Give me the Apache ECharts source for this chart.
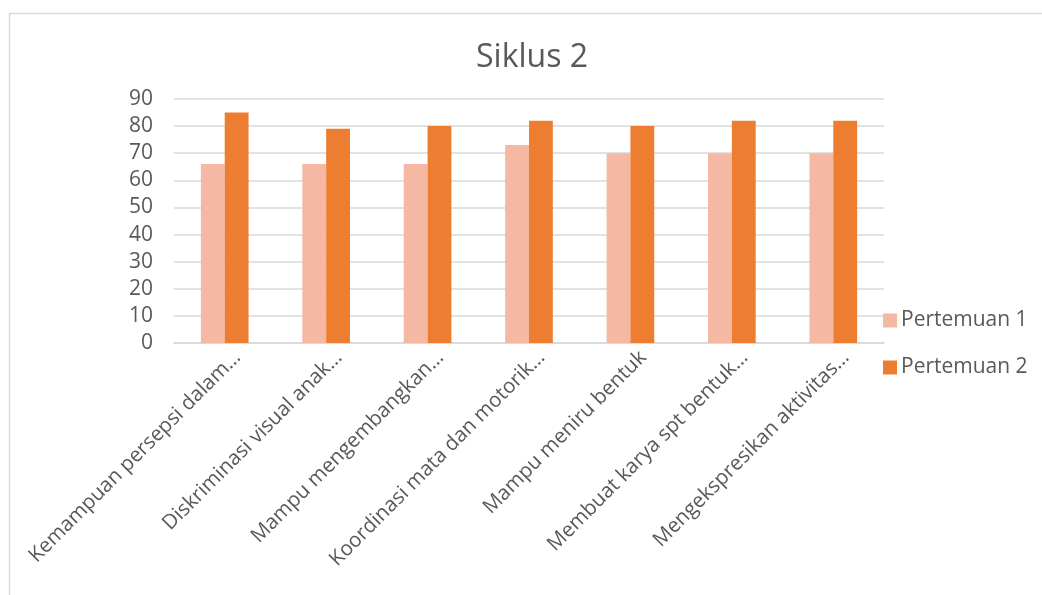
<!DOCTYPE html>
<html lang="id">

<head>
    <meta charset="utf-8">
    <title>Siklus 2</title>
    <style>
        body {
            margin: 0;
            background-color: #ffffff;
        }
    </style>
</head>

<body>
    <div id="main" style="width: 1042px;height:595px;"></div>
    <script src="https://cdn.jsdelivr.net/npm/echarts@6/dist/echarts.min.js"></script>

    <script>
        var myChart = echarts.init(document.getElementById('main'));

        var categories = [
            'Kemampuan persepsi dalam…',
            'Diskriminasi visual anak…',
            'Mampu mengembangkan…',
            'Koordinasi mata dan motorik…',
            'Mampu meniru bentuk',
            'Membuat karya spt bentuk…',
            'Mengekspresikan aktivitas…'
        ];
        var pertemuan1 = [66, 66, 66, 73, 70, 70, 70];
        var pertemuan2 = [85, 79, 80, 82, 80, 82, 82];
        var seriesNames = ['Pertemuan 1', 'Pertemuan 2'];

        var textColor = '#595959';
        var fontName = '"Open Sans", "Liberation Sans", sans-serif';

        option = {
            backgroundColor: '#ffffff',
            color: ['#f4b8a3', '#ed7d31'],
            animation: false,
            textStyle: {
                fontFamily: fontName
            },
            title: {
                text: 'Siklus 2',
                left: 471,
                top: 37,
                textStyle: {
                    color: textColor,
                    fontSize: 32,
                    fontWeight: 'normal',
                    fontFamily: fontName
                }
            },
            legend: {
                orient: 'vertical',
                left: 878,
                top: 305,
                itemWidth: 14,
                itemHeight: 14,
                itemGap: 26,
                icon: 'rect',
                data: seriesNames,
                textStyle: {
                    color: textColor,
                    fontSize: 21,
                    padding: [0, 0, 0, -1]
                }
            },
            grid: {
                left: 174,
                right: 158,
                top: 99,
                bottom: 252,
                containLabel: false
            },
            xAxis: [{
                type: 'category',
                data: categories,
                axisTick: {
                    show: false
                },
                axisLine: {
                    lineStyle: {
                        color: '#d9d9d9',
                        width: 1.5
                    }
                },
                axisLabel: {
                    interval: 0,
                    rotate: 45,
                    color: textColor,
                    fontSize: 20.5,
                    margin: 24,
                    padding: [0, -18, 0, 0]
                }
            }],
            yAxis: [{
                type: 'value',
                min: 0,
                max: 90,
                interval: 10,
                axisLine: {
                    show: false
                },
                axisTick: {
                    show: false
                },
                splitLine: {
                    lineStyle: {
                        color: '#d9d9d9',
                        width: 1.5
                    }
                },
                axisLabel: {
                    color: textColor,
                    fontSize: 21,
                    margin: 21
                }
            }],
            graphic: [{
                type: 'rect',
                shape: {
                    x: 9.5,
                    y: 13.5,
                    width: 1040,
                    height: 590
                },
                style: {
                    fill: 'none',
                    stroke: '#d9d9d9',
                    lineWidth: 1.5
                },
                silent: true
            }],
            series: [{
                    name: seriesNames[0],
                    type: 'bar',
                    barWidth: '23.5%',
                    barGap: '0%',
                    data: pertemuan1
                },
                {
                    name: seriesNames[1],
                    type: 'bar',
                    barWidth: '23.5%',
                    barGap: '0%',
                    data: pertemuan2
                }
            ]
        };

        myChart.setOption(option);
    </script>

</body>

</html>
